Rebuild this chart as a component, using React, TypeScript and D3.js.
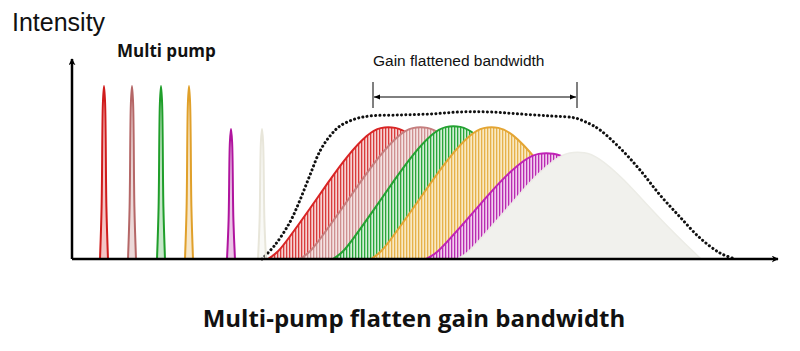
import { useEffect, useRef } from 'react';
import * as d3 from 'd3';

// Pump lines (position in wavelength units, relative intensity)
const pumpNames = ['p1', 'p2', 'p3', 'p4', 'p5', 'p6'];
const pumpPositions = [16, 30, 44.5, 58.5, 79.5, 95];
const pumpHeights = [86.5, 86.5, 86.5, 86.5, 65, 65];
const pumpColors = ['#d01c1c', '#b56767', '#1f9e2a', '#e0a02a', '#b0149e', '#e8e6da'];

// Raman gain bands generated by each pump
const gainStarts = [98, 114, 130.5, 149.5, 177, 192.5];
const gainHeights = [66, 66, 66.5, 66, 53, 53.5];
const gainStroke = ['#d92424', '#c57e7e', '#24a232', '#e4a533', '#c022b6', '#ececE6'];
const gainStripe = ['#d83c3c', '#cf9090', '#2aa63a', '#e6b14a', '#b82cb0', '#f1f1ed'];
const gainTint = ['#f7d2d2', '#f4e2e2', '#d2efd6', '#f9e9c3', '#f2cdef', '#f1f1ed'];

// shape of one gain band: offset from start, fraction of peak
const bandOffset = [0, 5, 10, 20, 30, 40, 50, 56, 64, 70, 82, 102, 122];
const bandLevel = [0, 0.05, 0.15, 0.36, 0.58, 0.79, 0.95, 1, 1, 0.96, 0.78, 0.36, 0];

// shape of one pump line
const pumpOffset = [-2, -1.2, -0.55, 0, 0.55, 1.2, 2];
const pumpLevel = [0, 0.3, 0.9, 1, 0.9, 0.3, 0];

// total (flattened) gain envelope
const envX = [95, 101.5, 109, 114, 119, 124, 129, 134, 141.5, 149, 164, 179, 194, 209, 224, 239, 251.5, 259, 264, 274, 284, 294, 304, 314, 324, 331.5];
const envY = [0, 7, 18.5, 29.5, 42, 54, 61.5, 66.5, 70, 71.5, 72, 72.5, 73.5, 73.5, 72.5, 71.5, 70.5, 67.5, 64.5, 55.5, 44.5, 32, 21, 10.5, 3, 0];

const bandwidthRange = [150.5, 252.5];

export default function App() {
  const svgRef = useRef<SVGSVGElement>(null);

  useEffect(() => {
    if (!svgRef.current) return;
    const width = 800;
    const height = 351;
    const svg = d3.select(svgRef.current);
    svg.selectAll('*').remove();
    svg.attr('width', width).attr('height', height);

    const x = d3.scaleLinear().domain([0, 353]).range([72, 778]);
    const y = d3.scaleLinear().domain([0, 100]).range([259, 59]);

    const defs = svg.append('defs');
    gainStripe.forEach((c, i) => {
      const p = defs
        .append('pattern')
        .attr('id', `hatch${i}`)
        .attr('patternUnits', 'userSpaceOnUse')
        .attr('width', 3)
        .attr('height', 3);
      p.append('rect').attr('width', 3).attr('height', 3).attr('fill', gainTint[i]);
      p.append('rect')
        .attr('x', 1)
        .attr('y', 0)
        .attr('width', 1.3)
        .attr('height', 3)
        .attr('fill', c);
    });

    const arrow = defs
      .append('marker')
      .attr('id', 'axisArrow')
      .attr('viewBox', '0 0 10 10')
      .attr('refX', 9)
      .attr('refY', 5)
      .attr('markerWidth', 7)
      .attr('markerHeight', 7)
      .attr('markerUnits', 'userSpaceOnUse')
      .attr('orient', 'auto');
    arrow.append('path').attr('d', 'M0,0 L10,5 L0,10 L3,5 Z').attr('fill', '#000');

    const small = defs
      .append('marker')
      .attr('id', 'smallArrow')
      .attr('viewBox', '0 0 10 10')
      .attr('refX', 10)
      .attr('refY', 5)
      .attr('markerWidth', 8)
      .attr('markerHeight', 6)
      .attr('markerUnits', 'userSpaceOnUse')
      .attr('orient', 'auto-start-reverse');
    small.append('path').attr('d', 'M0,1 L10,5 L0,9 Z').attr('fill', '#000');

    const g = svg.append('g');

    // Gain bands, later pumps drawn on top
    const bandLine = d3
      .line<[number, number]>()
      .x((d) => x(d[0]))
      .y((d) => y(d[1]))
      .curve(d3.curveBasis);

    gainStarts.forEach((s, i) => {
      const pts: [number, number][] = bandOffset.map((o, k) => [s + o, bandLevel[k] * gainHeights[i]]);
      g.append('path')
        .attr('d', bandLine(pts) + 'Z')
        .attr('fill', i === 5 ? gainTint[i] : `url(#hatch${i})`)
        .attr('stroke', gainStroke[i])
        .attr('stroke-width', i === 5 ? 1.5 : 2);
    });

    // Envelope
    const envPts: [number, number][] = envX.map((v, k) => [v, envY[k]]);
    g.append('path')
      .attr('d', d3.line<[number, number]>().x((d) => x(d[0])).y((d) => y(d[1])).curve(d3.curveCatmullRom)(envPts))
      .attr('fill', 'none')
      .attr('stroke', '#111')
      .attr('stroke-width', 3)
      .attr('stroke-linecap', 'round')
      .attr('stroke-dasharray', '0.1 4.2');

    // Pumps
    const pumpLine = d3
      .line<[number, number]>()
      .x((d) => x(d[0]))
      .y((d) => y(d[1]))
      .curve(d3.curveCatmullRom);
    pumpNames.forEach((_, i) => {
      const pts: [number, number][] = pumpOffset.map((o, k) => [pumpPositions[i] + o, pumpLevel[k] * pumpHeights[i]]);
      g.append('path')
        .attr('d', pumpLine(pts))
        .attr('fill', pumpColors[i])
        .attr('fill-opacity', 0.25)
        .attr('stroke', pumpColors[i])
        .attr('stroke-width', 2);
    });

    // Axes
    g.append('line')
      .attr('x1', x(0))
      .attr('x2', x(353))
      .attr('y1', y(0))
      .attr('y2', y(0))
      .attr('stroke', '#000')
      .attr('stroke-width', 2.5)
      .attr('marker-end', 'url(#axisArrow)');
    g.append('line')
      .attr('x1', x(0))
      .attr('x2', x(0))
      .attr('y1', y(0))
      .attr('y2', y(100))
      .attr('stroke', '#000')
      .attr('stroke-width', 2.5)
      .attr('marker-end', 'url(#axisArrow)');

    // Bandwidth bracket
    bandwidthRange.forEach((b) => {
      g.append('line')
        .attr('x1', x(b))
        .attr('x2', x(b))
        .attr('y1', 82)
        .attr('y2', 108)
        .attr('stroke', '#000')
        .attr('stroke-width', 1);
    });
    g.append('line')
      .attr('x1', x(bandwidthRange[0]) + 1)
      .attr('x2', x(bandwidthRange[1]) - 1)
      .attr('y1', 97)
      .attr('y2', 97)
      .attr('stroke', '#000')
      .attr('stroke-width', 1)
      .attr('marker-start', 'url(#smallArrow)')
      .attr('marker-end', 'url(#smallArrow)');

    // Labels
    const font = "'Liberation Sans', Arial, sans-serif";
    g.append('text')
      .attr('x', 12)
      .attr('y', 31)
      .attr('font-family', font)
      .attr('font-size', '25px')
      .attr('fill', '#111')
      .text('Intensity');
    g.append('text')
      .attr('x', 117)
      .attr('y', 57)
      .attr('font-family', "'Open Sans', sans-serif")
      .attr('font-weight', 700)
      .attr('font-size', '17px')
      .attr('fill', '#111')
      .text('Multi pump');
    g.append('text')
      .attr('x', 373)
      .attr('y', 66)
      .attr('font-family', font)
      .attr('font-size', '15.5px')
      .attr('fill', '#111')
      .text('Gain flattened bandwidth');
    g.append('text')
      .attr('x', 414)
      .attr('y', 327)
      .attr('text-anchor', 'middle')
      .attr('font-family', "'Open Sans', sans-serif")
      .attr('font-weight', 700)
      .attr('font-size', '24px')
      .attr('fill', '#111')
      .text('Multi-pump flatten gain bandwidth');
  }, []);

  return (
    <svg
      ref={svgRef}
      style={{ position: 'absolute', left: 0, top: 0, background: '#fff', display: 'block' }}
    />
  );
}
